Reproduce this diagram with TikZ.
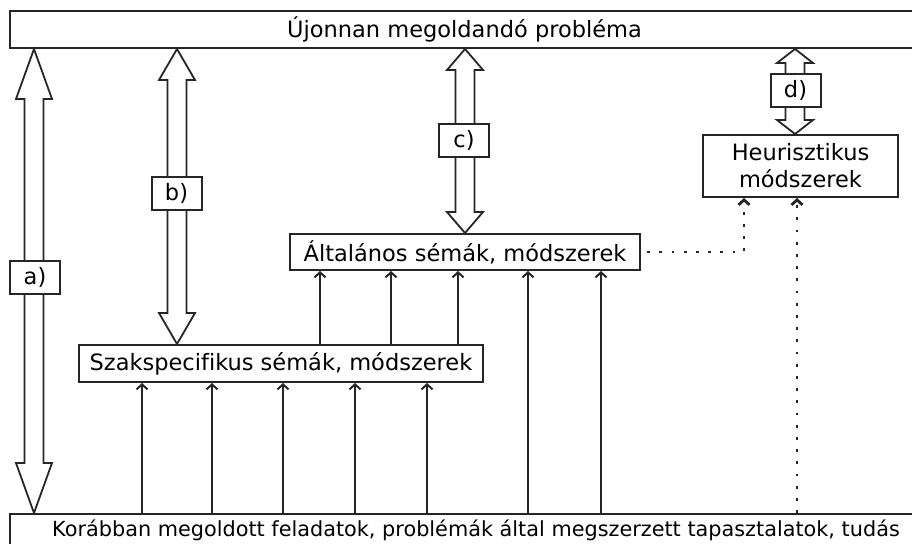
\documentclass[tikz,border=0pt]{standalone}
\usepackage{fontspec}
\setmainfont[Ligatures=NoCommon]{DejaVu Sans}
\usetikzlibrary{arrows.meta,calc}

% hollow two-headed arrow between two named points; #3 = head length
\newcommand\twoway[3]{%
  \draw[fatarrow] (#1) -- ($(#1)+(18,#3)$) -- ($(#1)+(9.5,#3)$)
    -- ($(#2)+(9.5,-#3)$) -- ($(#2)+(18,-#3)$) -- (#2)
    -- ($(#2)+(-18,-#3)$) -- ($(#2)+(-9.5,-#3)$)
    -- ($(#1)+(-9.5,#3)$) -- ($(#1)+(-18,#3)$) -- cycle;}

\begin{document}
\begin{tikzpicture}[x=1pt,y=-1pt,
  box/.style={draw=black!85, line width=2pt, fill=white, inner sep=0pt,
    font=\fontsize{22.5}{27}\selectfont, align=center},
  tag/.style={box, minimum width=50pt, minimum height=33pt},
  fatarrow/.style={draw=black!85, line width=1.8pt, fill=white, line join=miter},
  feed/.style={draw=black!85, line width=2pt,
    -{Straight Barb[length=5pt,width=11pt]}},
  hint/.style={feed, line width=2.8pt, dash pattern=on 2.8pt off 9.4pt}]

\useasboundingbox (0,0) rectangle (912,543);
\clip (0,0) rectangle (912,543);

% main boxes
\node[box, anchor=north west, minimum width=909pt, minimum height=37pt]
  (top) at (9,10) {Újonnan megoldandó probléma};
\node[box, anchor=north west, minimum width=932pt, text height=22pt, text depth=30pt,
  font=\fontsize{20.8}{25}\selectfont]
  (base) at (9,513) {Korábban megoldott feladatok, problémák által megszerzett tapasztalatok, tudás};
\node[box, minimum width=404pt, minimum height=37pt] (szak) at (281,363.5)
  {Szakspecifikus sémák, módszerek};
\node[box, minimum width=350pt, minimum height=36pt] (alt) at (465,252)
  {Általános sémák, módszerek};
\node[box, minimum width=195pt, minimum height=62pt] (heur) at (800.5,166)
  {Heurisztikus\\módszerek};

% columns of the hollow arrows
\coordinate (xa) at (34,0);
\coordinate (xb) at (177,0);
\coordinate (xc) at (465,0);
\coordinate (xd) at (795,0);
\coordinate (a1) at (top.south -| xa); \coordinate (a2) at (base.north -| xa);
\coordinate (b1) at (top.south -| xb); \coordinate (b2) at (szak.north -| xb);
\coordinate (c1) at (top.south -| xc); \coordinate (c2) at (alt.north -| xc);
\coordinate (d1) at (top.south -| xd); \coordinate (d2) at (heur.north -| xd);
\twoway{a1}{a2}{50}
\twoway{b1}{b2}{31}
\twoway{c1}{c2}{21}
\twoway{d1}{d2}{14}

\node[tag] (ta) at (35,277) {a)};
\node[tag] (tb) at (176.5,193.5) {b)};
\node[tag] (tc) at (464,140) {c)};
\node[tag] (td) at (795.5,90) {d)};

% experience feeding the subject-specific schemes
\foreach \x in {142,212,283,355,427} {
  \coordinate (p) at (\x,0);
  \draw[feed] (base.north -| p) -- (szak.south -| p);
}
% subject-specific schemes feeding the general ones
\foreach \x in {320,391,458} {
  \coordinate (p) at (\x,0);
  \draw[feed] (szak.north -| p) -- (alt.south -| p);
}
% experience feeding the general schemes directly
\foreach \x in {528,601} {
  \coordinate (p) at (\x,0);
  \draw[feed] (base.north -| p) -- (alt.south -| p);
}

% weaker links to the heuristic methods
\coordinate (h1) at (744,0);
\coordinate (h2) at (797,0);
\draw[hint, dash phase=6pt] (alt.east) -| (heur.south -| h1);
\draw[hint] (base.north -| h2) -- (heur.south -| h2);

\end{tikzpicture}
\end{document}
